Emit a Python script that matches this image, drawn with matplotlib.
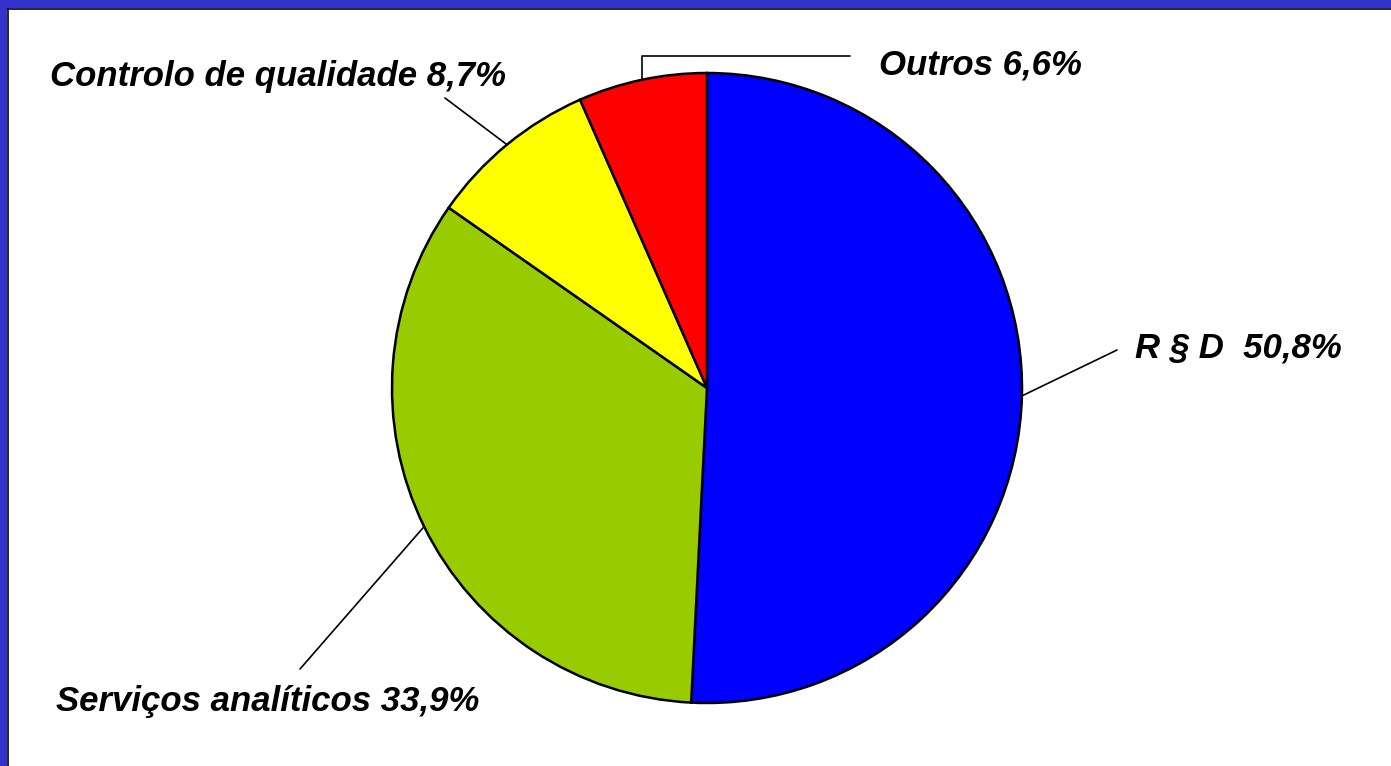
import matplotlib.pyplot as plt
from matplotlib.patches import Rectangle
from matplotlib.lines import Line2D
import numpy as np

labels = ['R § D  50,8%', 'Serviços analíticos 33,9%',
          'Controlo de qualidade 8,7%', 'Outros 6,6%']
shares = [50.8, 33.9, 8.7, 6.6]
colors = ['#0000ff', '#99cc00', '#ffff00', '#ff0000']

W, H = 1391, 766
fig = plt.figure(figsize=(W / 100, H / 100), dpi=100)
fig.patch.set_facecolor('white')

# blue frame on top and left edges, with a thin dark inner line
fig.patches.append(Rectangle((0, H - 8), W, 8, transform=None,
                             facecolor='#3333cc', edgecolor='none'))
fig.patches.append(Rectangle((0, 0), 7, H, transform=None,
                             facecolor='#3333cc', edgecolor='none'))
fig.lines.append(Line2D([7.5, W], [H - 8.5, H - 8.5], transform=None,
                        color='black', lw=1.2))
fig.lines.append(Line2D([7.5, 7.5], [0, H - 8.5], transform=None,
                        color='black', lw=1.2))

cx, cy, r = 707, H - 388, 315
ax = fig.add_axes([(cx - r) / W, (cy - r) / H, 2 * r / W, 2 * r / H])
wedges, _ = ax.pie(shares, colors=colors, startangle=90, counterclock=False,
                   wedgeprops=dict(edgecolor='black', linewidth=1.8))
ax.set_xlim(-1, 1)
ax.set_ylim(-1, 1)
ax.set_aspect('equal')
ax.axis('off')

# leader line ends and label positions (figure pixels)
line_ends = [(1117, H - 350), (300, H - 669), (445, H - 98), (850, H - 56)]
text_pos = [(1135, H - 357), (56, H - 711), (50, H - 86), (879, H - 74)]

for w, lab, le, tp in zip(wedges, labels, line_ends, text_pos):
    mid = np.deg2rad((w.theta1 + w.theta2) / 2)
    xy = (np.cos(mid), np.sin(mid))
    if lab.startswith('Outros'):
        cs = 'angle,angleA=0,angleB=90,rad=0'
    else:
        cs = 'arc3'
    ax.annotate('', xy=xy, xycoords='data', xytext=le,
                textcoords='figure pixels', annotation_clip=False,
                arrowprops=dict(arrowstyle='-', color='black', lw=1.2,
                                shrinkA=0, shrinkB=0, connectionstyle=cs))
    fig.text(tp[0] / W, tp[1] / H, lab, ha='left', va='baseline',
             fontsize=25, fontweight='bold', fontstyle='italic',
             family='Liberation Sans', color='black')

fig.savefig('out.png', dpi=100, facecolor='white')
